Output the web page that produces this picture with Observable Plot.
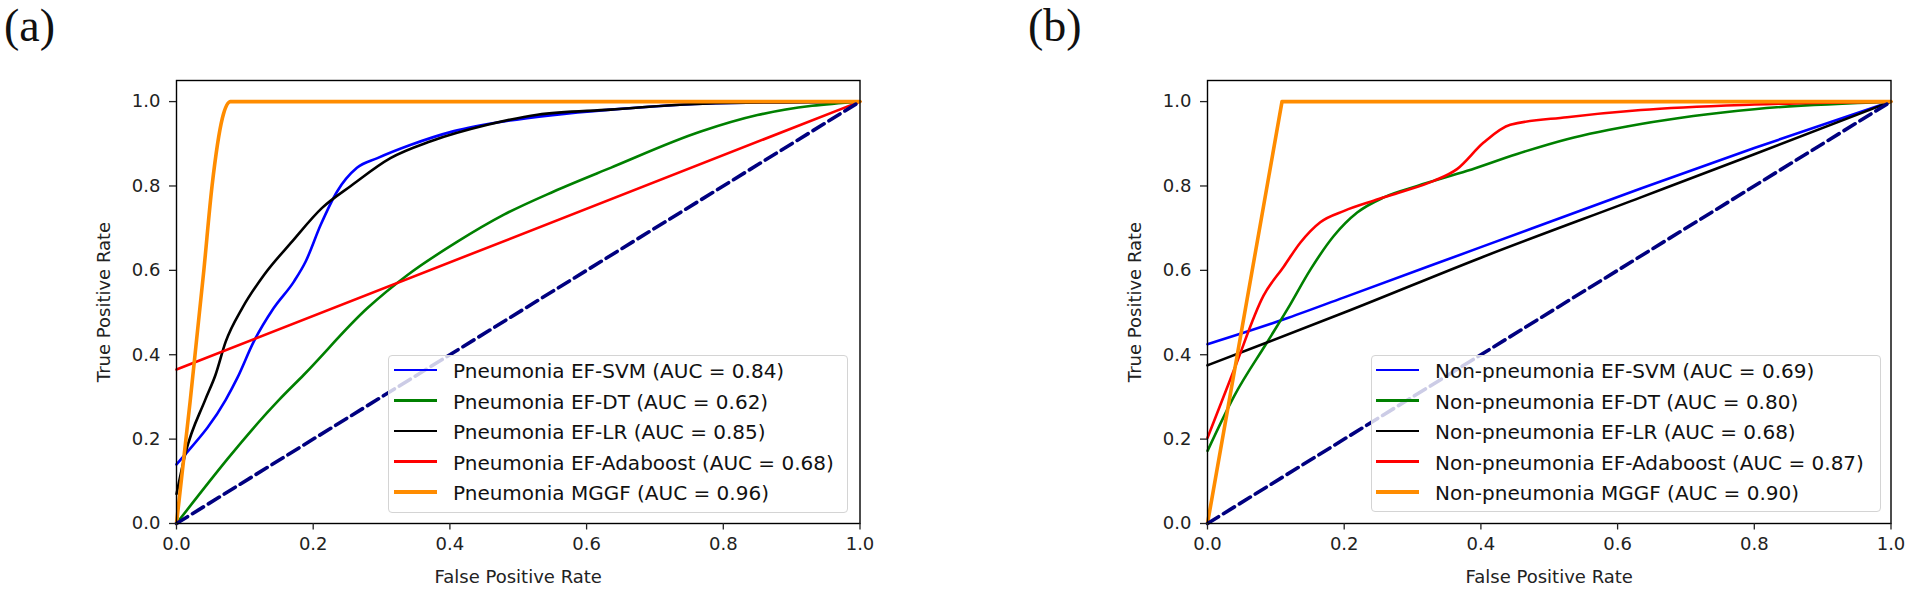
<!DOCTYPE html>
<html>
<head>
<meta charset="utf-8">
<script src="https://cdn.jsdelivr.net/npm/d3@7"></script>
<script src="https://cdn.jsdelivr.net/npm/@observablehq/plot@0.6"></script>
<style>
  body { margin: 0; background: #fff; }
  #root { position: relative; width: 1909px; height: 590px; overflow: hidden; font-family: "DejaVu Sans", sans-serif; }
  .panel { position: absolute; top: 0; }
  .tag { position: absolute; top: 0px; font-family: "Liberation Serif", serif; font-size: 46px; line-height: 1.15; color: #111; }
  .legend { position: absolute; background: rgba(255,255,255,0.8); border: 1px solid #d4d4d4; border-radius: 4px; box-sizing: border-box; }
  .handle { position: absolute; }
  .ltext { position: absolute; font-size: 20px; line-height: 1.1; color: #111; white-space: nowrap; transform: translateY(-50%); }
</style>
</head>
<body>
<div id="root"></div>
<script>
// ---- Data ----
const xTicks = [0, 0.2, 0.4, 0.6, 0.8, 1.0];
const yTicks = [0, 0.2, 0.4, 0.6, 0.8, 1.0];
const models = ["EF-SVM", "EF-DT", "EF-LR", "EF-Adaboost", "MGGF"];
const colors = ["#0000ff", "#008000", "#000000", "#ff0000", "#ff8c00"];
const aucA = ["0.84", "0.62", "0.85", "0.68", "0.96"];
const aucB = ["0.69", "0.80", "0.68", "0.87", "0.90"];
const chanceFpr = [0, 1];
const chanceTpr = [0, 1];

// Panel (a): Pneumonia
const fprA_svm = [0, 0.008, 0.072, 0.089, 0.113, 0.142, 0.172, 0.189, 0.211, 0.235, 0.264, 0.294, 0.342, 0.406, 0.479, 0.55, 0.635, 0.77, 1];
const tprA_svm = [0.14, 0.155, 0.293, 0.345, 0.431, 0.51, 0.574, 0.621, 0.708, 0.787, 0.843, 0.866, 0.897, 0.93, 0.953, 0.968, 0.981, 0.995, 1];
const fprA_dt = [0, 0.15, 0.186, 0.279, 0.338, 0.411, 0.479, 0.552, 0.635, 0.767, 0.85, 0.93, 1];
const tprA_dt = [0, 0.293, 0.352, 0.51, 0.589, 0.668, 0.732, 0.787, 0.843, 0.929, 0.968, 0.99, 1];
const fprA_lr = [0, 0.013, 0.042, 0.057, 0.072, 0.096, 0.128, 0.169, 0.213, 0.255, 0.313, 0.372, 0.455, 0.528, 0.635, 0.77, 1];
const tprA_lr = [0.07, 0.166, 0.293, 0.352, 0.431, 0.51, 0.589, 0.668, 0.748, 0.8, 0.866, 0.906, 0.945, 0.969, 0.981, 0.995, 1];
const fprA_ada = [0, 1];
const tprA_ada = [0.365, 1];
const fprA_mggf = [0, 0.02, 0.04, 0.052, 0.067, 0.079, 1];
const tprA_mggf = [0, 0.29, 0.6, 0.8, 0.96, 1.0, 1.0];

// Panel (b): Non-pneumonia
const fprB_svm = [0, 0.112, 0.2, 0.4, 0.634, 0.8, 1];
const tprB_svm = [0.425, 0.484, 0.536, 0.655, 0.794, 0.89, 1];
const fprB_dt = [0, 0.039, 0.087, 0.117, 0.151, 0.185, 0.219, 0.258, 0.307, 0.38, 0.453, 0.526, 0.634, 0.8, 1];
const tprB_dt = [0.172, 0.302, 0.429, 0.508, 0.603, 0.682, 0.737, 0.773, 0.80, 0.836, 0.876, 0.911, 0.947, 0.982, 1];
const fprB_lr = [0, 0.087, 0.2, 0.4, 0.634, 0.8, 1];
const tprB_lr = [0.375, 0.429, 0.50, 0.63, 0.773, 0.875, 1];
const fprB_ada = [0, 0.039, 0.082, 0.112, 0.136, 0.165, 0.2, 0.243, 0.282, 0.331, 0.365, 0.404, 0.443, 0.526, 0.634, 0.8, 1];
const tprB_ada = [0.203, 0.365, 0.54, 0.61, 0.666, 0.714, 0.741, 0.765, 0.785, 0.812, 0.84, 0.903, 0.945, 0.963, 0.98, 0.993, 1];
const fprB_mggf = [0, 0.109, 1];
const tprB_mggf = [0, 1.0, 1.0];

// ---- Drawing ----
const zip = (xs, ys) => xs.map((x, i) => ({x, y: ys[i]}));

function makePanel({curves, width, marginLeft, marginRight}) {
  const marks = [];
  curves.forEach((c, i) => {
    marks.push(Plot.line(zip(c[0], c[1]), {
      x: "x", y: "y",
      stroke: colors[i],
      strokeWidth: i === 4 ? 3.6 : 2.6,
      curve: c[2] || "monotone-x"
    }));
  });
  marks.push(Plot.line(zip(chanceFpr, chanceTpr), {
    x: "x", y: "y", stroke: "#000080", strokeWidth: 3.6, strokeDasharray: "13,5.7"
  }));
  marks.push(Plot.frame({stroke: "#000", strokeWidth: 1.4}));
  marks.push(Plot.axisX({
    ticks: xTicks, tickFormat: d3.format(".1f"), tickSize: 6.5, tickPadding: 7,
    fontSize: 18, fill: "#222", strokeWidth: 1.3,
    label: "False Positive Rate", labelAnchor: "center", labelArrow: "none", labelOffset: 59
  }));
  marks.push(Plot.axisY({
    ticks: yTicks, tickFormat: d3.format(".1f"), tickSize: 7, tickPadding: 9,
    fontSize: 18, fill: "#222", strokeWidth: 1.3,
    label: "True Positive Rate", labelAnchor: "center", labelArrow: "none", labelOffset: 79
  }));
  return Plot.plot({
    width, height: 590,
    marginLeft, marginRight, marginTop: 80, marginBottom: 67,
    style: {fontFamily: "DejaVu Sans", fontSize: "18px", background: "transparent", color: "#222", overflow: "visible"},
    x: {domain: [0, 1]},
    y: {domain: [0, 1.05]},
    marks
  });
}

const root = document.getElementById("root");

function addPanel(svg, left) {
  const d = document.createElement("div");
  d.className = "panel";
  d.style.left = left + "px";
  d.appendChild(svg);
  root.appendChild(d);
}

function addTag(text, left) {
  const t = document.createElement("div");
  t.className = "tag";
  t.style.left = left + "px";
  t.textContent = text;
  root.appendChild(t);
}

function addLegend({prefix, aucs, left, top, width, height, handleLeft, textLeft, firstRow, rowStep}) {
  const box = document.createElement("div");
  box.className = "legend";
  Object.assign(box.style, {left: left + "px", top: top + "px", width: width + "px", height: height + "px"});
  models.forEach((m, i) => {
    const cy = firstRow + rowStep * i;
    const lw = i === 4 ? 3.6 : 2.8;
    const h = document.createElement("div");
    h.className = "handle";
    Object.assign(h.style, {left: handleLeft + "px", top: (cy - lw / 2) + "px", width: "43px", height: lw + "px", background: colors[i]});
    box.appendChild(h);
    const t = document.createElement("div");
    t.className = "ltext";
    Object.assign(t.style, {left: textLeft + "px", top: (cy + 1) + "px"});
    t.textContent = `${prefix} ${m} (AUC = ${aucs[i]})`;
    box.appendChild(t);
  });
  root.appendChild(box);
}

addPanel(makePanel({
  curves: [[fprA_svm, tprA_svm], [fprA_dt, tprA_dt], [fprA_lr, tprA_lr], [fprA_ada, tprA_ada, "linear"], [fprA_mggf, tprA_mggf]],
  width: 900, marginLeft: 176, marginRight: 40.5
}), 0);
addPanel(makePanel({
  curves: [[fprB_svm, tprB_svm], [fprB_dt, tprB_dt], [fprB_lr, tprB_lr], [fprB_ada, tprB_ada], [fprB_mggf, tprB_mggf, "linear"]],
  width: 909, marginLeft: 207, marginRight: 18.5
}), 1000);

addTag("(a)", 4);
addTag("(b)", 1028);

addLegend({prefix: "Pneumonia", aucs: aucA, left: 388, top: 355, width: 460, height: 158, handleLeft: 5, textLeft: 64, firstRow: 14, rowStep: 30.5});
addLegend({prefix: "Non-pneumonia", aucs: aucB, left: 1371, top: 355, width: 510, height: 157, handleLeft: 4, textLeft: 63, firstRow: 14, rowStep: 30.5});
</script>
</body>
</html>
